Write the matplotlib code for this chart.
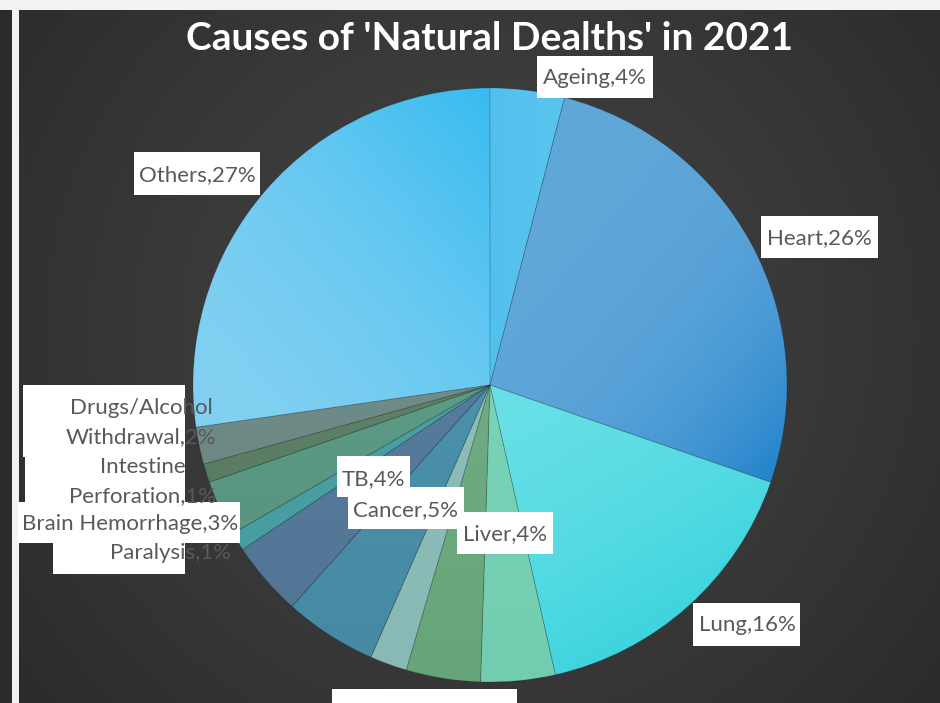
import numpy as np
import matplotlib
matplotlib.use('Agg')
import matplotlib.pyplot as plt
from matplotlib import transforms as mtransforms
from matplotlib.patches import Rectangle
from matplotlib.colors import to_rgb

# causes of natural deaths, share in percent
causes = ['Ageing', 'Heart', 'Lung', 'Liver', 'Kidney', 'Diabetes', 'Cancer', 'TB',
          'Paralysis', 'Brain Hemorrhage', 'Intestine Perforation',
          'Drugs/Alcohol Withdrawal', 'Others']
shares = [4, 26, 16, 4, 4, 2, 5, 4, 1, 3, 1, 2, 27]

# slice fills: light and deep end of each slice's linear gradient
fill_light = ['#5ac5ee', '#60a7da', '#68e0e6', '#79d3b8', '#70ac82', '#8cbdb8', '#4b91aa',
              '#567b9b', '#49a1a6', '#5d9b87', '#5e8167', '#708c88', '#82d0f2']
fill_deep = ['#52c0ee', '#2383cb', '#3ed4df', '#72cdb0', '#66a47a', '#88b9b4', '#4689a3',
             '#537696', '#469da2', '#59957f', '#5a7c62', '#6c8884', '#36bbf0']
# direction (degrees) in which each gradient deepens, and how late it kicks in
grad_dir = [180, -40, -60, -90, -90, -90, -90, -90, -90, -90, -90, -90, 40]
grad_pow = [1.0, 3.2, 1.6, 1.0, 1.0, 1.0, 1.0, 1.0, 1.0, 1.0, 1.0, 1.0, 1.8]

W, H = 940, 703
fig = plt.figure(figsize=(W / 100, H / 100), dpi=100)
# pixel coordinates measured from the top-left corner
px = mtransforms.Affine2D().scale(1 / W, -1 / H).translate(0, 1) + fig.transFigure

# dark radial background with the light window strips
bg = fig.add_axes([0, 0, 1, 1], zorder=-2)
bg.axis('off')
yy, xx = np.mgrid[0:H, 0:W]
r = np.clip(np.hypot(xx - 480, yy - 330) / 640, 0, 1)
shade = (0x44 - (0x44 - 0x29) * r ** 1.2) / 255
img = np.repeat(shade[..., None], 3, axis=2)
img[:, :12] = 0x2b / 255
img[:, 12:19] = 0xf2 / 255
img[:10, :] = 0xf2 / 255
bg.imshow(img, extent=(0, W, H, 0), aspect='auto', interpolation='nearest')
bg.set_xlim(0, W)
bg.set_ylim(H, 0)

# pie
cx, cy, R = 490, 385, 297
pad = 1.02
ax = fig.add_axes([(cx - R * pad) / W, 1 - (cy + R * pad) / H, 2 * R * pad / W, 2 * R * pad / H])
wedges, _ = ax.pie(shares, colors=fill_light, startangle=90, counterclock=False,
                   wedgeprops=dict(linewidth=0.7, edgecolor=(0, 0, 0, 0.12)))

n = 700
g = np.linspace(-1, 1, n)
X, Y = np.meshgrid(g, -g)
ang = np.degrees(np.arctan2(Y, X)) % 360
inside = np.hypot(X, Y) <= 1
for w, c0, c1, d, p in zip(wedges, fill_light, fill_deep, grad_dir, grad_pow):
    in_wedge = inside & (((ang - w.theta1) % 360) <= (w.theta2 - w.theta1))
    proj = X * np.cos(np.radians(d)) + Y * np.sin(np.radians(d))
    lo, hi = proj[in_wedge].min(), proj[in_wedge].max()
    t = np.clip((proj - lo) / (hi - lo), 0, 1) ** p
    c0, c1 = np.array(to_rgb(c0)), np.array(to_rgb(c1))
    rgb = c0 + (c1 - c0) * t[..., None]
    im = ax.imshow(rgb, extent=(-1, 1, -1, 1), origin='upper', aspect='auto',
                   interpolation='bilinear', zorder=2)
    im.set_clip_path(w)
    w.set_facecolor('none')
    w.set_zorder(3)
ax.set_aspect('auto')
ax.set_xlim(-pad, pad)
ax.set_ylim(-pad, pad)
ax.axis('off')

# data label boxes and anchors (box x0, y0, x1, y1 / text centre), in pixels
label_box = {
    'Ageing': (537, 56, 653, 98),
    'Heart': (761, 216, 878, 258),
    'Lung': (693, 603, 800, 646),
    'Liver': (457, 512, 553, 554),
    'Kidney': (403, 689, 517, 780),
    'Diabetes': (332, 689, 470, 780),
    'Cancer': (348, 487, 464, 529),
    'TB': (337, 456, 410, 497),
    'Paralysis': (53, 543, 185, 574),
    'Brain Hemorrhage': (18, 502, 240, 543),
    'Intestine Perforation': (25, 457, 185, 502),
    'Drugs/Alcohol Withdrawal': (23, 385, 185, 457),
    'Others': (134, 152, 260, 195),
}
label_at = {
    'Ageing': (595, 78), 'Heart': (819, 238), 'Lung': (747, 625), 'Liver': (505, 534),
    'Kidney': (470, 720), 'Diabetes': (380, 750), 'Cancer': (406, 510), 'TB': (373, 479),
    'Paralysis': (171, 553), 'Brain Hemorrhage': (130, 524),
    'Intestine Perforation': (143, 467), 'Drugs/Alcohol Withdrawal': (141, 408),
    'Others': (197, 175),
}
wrapped = {'Intestine Perforation', 'Drugs/Alcohol Withdrawal'}

for name in causes:
    x0, y0, x1, y1 = label_box[name]
    fig.patches.append(Rectangle((x0, y0), x1 - x0, y1 - y0, transform=px,
                                 facecolor='white', edgecolor='none', zorder=5))

for name, share in zip(causes, shares):
    text = f'{name},{share}%'
    lines = text.split(' ', 1) if name in wrapped else [text]
    x, y = label_at[name]
    for i, line in enumerate(lines):
        fig.text(x, y + 29.5 * i, line, transform=px, ha='center', va='center',
                 fontsize=16, family='Lato', color='#595959', zorder=6)

fig.text(490, 38, "Causes of 'Natural Dealths' in 2021", transform=px,
         ha='center', va='center', fontsize=28, fontweight='bold',
         family='Lato', color='white', zorder=6)

fig.savefig('out.png', dpi=100)
